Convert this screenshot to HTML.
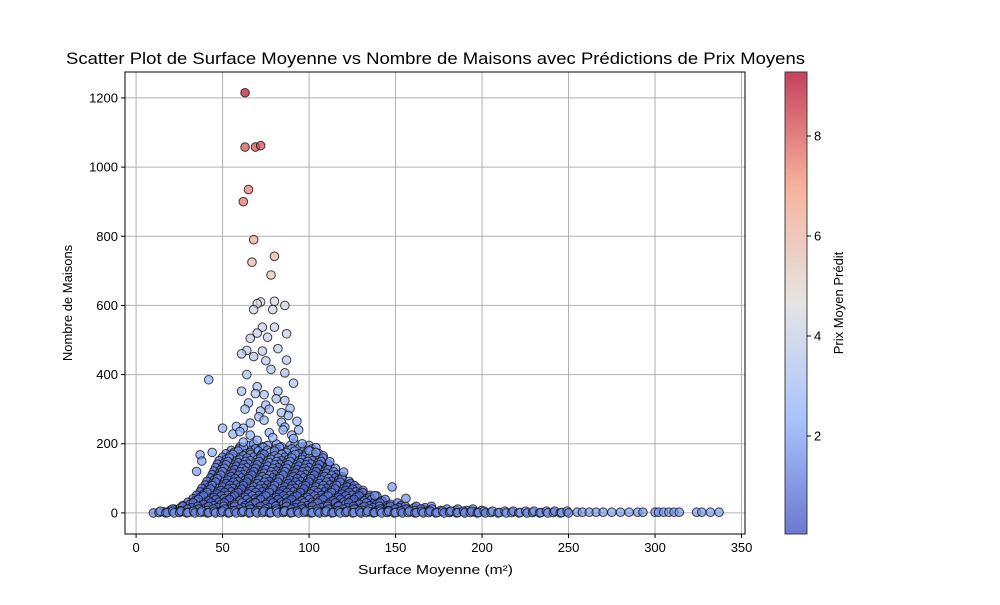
<!DOCTYPE html>
<html><head><meta charset="utf-8"><style>
body{margin:0;background:#fff;font-family:"Liberation Sans",sans-serif}
svg text{font-family:"Liberation Sans",sans-serif;fill:#000}
</style></head><body>
<svg id="chart" width="1000" height="600" xmlns="http://www.w3.org/2000/svg">
<defs><linearGradient id="cg" x1="0" y1="1" x2="0" y2="0">
<stop offset="0" stop-color="#3b4cc0"/><stop offset="0.25" stop-color="#8db0fe"/><stop offset="0.5" stop-color="#dddcdc"/><stop offset="0.75" stop-color="#f49a7b"/><stop offset="1" stop-color="#b40426"/></linearGradient></defs>
<rect x="0" y="0" width="1000" height="600" fill="#fff"/>
<g id="grid"></g><g id="pts"></g><g id="axes"></g>
<text x="66" y="64" font-size="17" textLength="739" lengthAdjust="spacingAndGlyphs">Scatter Plot de Surface Moyenne vs Nombre de Maisons avec Prédictions de Prix Moyens</text>
<text x="358" y="574" font-size="13" textLength="155" lengthAdjust="spacingAndGlyphs">Surface Moyenne (m²)</text>
<text transform="translate(72,303) rotate(-90)" font-size="13" text-anchor="middle">Nombre de Maisons</text>
<rect x="785" y="72" width="22" height="462" fill="url(#cg)" opacity="0.75" stroke="#000" stroke-width="1"/>
<g id="cbar"></g>
<text transform="translate(843,303) rotate(-90)" font-size="13" text-anchor="middle">Prix Moyen Prédit</text>
</svg>
<script>
const xTicks=[0,50,100,150,200,250,300,350];
const yTicks=[0,200,400,600,800,1000,1200];
const cTicks=[2,4,6,8];
const outX=[63,63,69,72,65,62,68,80,67,78,80,72,70,86,68,79,73,80,70,87,76,66,64,73,82,61,68,87,75,64,78,86,42,91,70,61,82,74,65,86,63,72,89,94,50,56,37,44,38,35,58,66,77,84,71,62,90,148,156,138,112,120,60,75,81,84,88,93,69,77,86,91,74,66,79,85,70,62,96,100,104];
const outY=[1215,1058,1058,1062,935,900,790,742,725,688,612,610,605,600,588,588,537,537,520,518,508,505,470,468,475,460,452,442,440,400,415,405,385,375,365,352,352,342,318,325,300,295,302,240,245,228,168,175,150,120,250,260,232,262,278,245,225,75,42,50,148,118,235,312,330,290,282,265,345,300,248,215,268,225,218,240,210,205,200,180,175];
const outV=[9.1,8.2,8.2,8.2,7.5,7.6,6.5,6.2,5.8,5.5,4.5,4.4,4.4,4.3,4.2,4.2,4,4,3.9,3.9,3.8,3.8,3.7,3.7,3.7,3.6,3.5,3.5,3.5,3.3,3.3,3.3,2.4,3.2,3.2,3.1,3.1,3.1,3,3,3,2.9,2.9,2.6,2.5,2.4,2.1,2.2,2,1.8,2.5,2.6,2.4,2.6,2.7,2.5,2.3,1.8,1.6,1.6,1.7,1.6,2.4,2.9,3.0,2.8,2.7,2.6,3.1,2.8,2.5,2.3,2.6,2.3,2.3,2.4,2.2,2.2,2.1,2.0,1.9];
const rowY=[195,185,175,165,155,145,135,125,115,105,95,85,75,65,55,45,35,25,15,7,1];
const rowStart=[60,55,52,50,48,47,46,45,44,43,41,40,38,37,35,33,30,27,22,16,10];
const rowEnd=[100,104,106,108,110,112,114,116,118,120,122,124,128,132,136,140,145,155,170,200,250];
const rowStep=[4,3.5,3.5,3,3,3,3,3,3,3,3,3,3,3,3,3,3,3,2.5,2.5,2];
const rowV=[1.6,1.5,1.4,1.3,1.2,1.1,1.0,0.9,0.9,0.8,0.8,0.7,0.7,0.6,0.6,0.6,0.6,0.7,0.8,1.0,1.3];
const tailX=[255,258,262,266,270,275,280,285,290,293,300,302,305,308,311,314,324,327,332,337];
const tailY=[2,2,2,2,2,2,2,2,2,2,2,2,2,2,2,2,2,2,2,2];
const tailV=[1.8,1.8,1.8,1.8,1.8,1.9,1.8,1.8,1.9,1.8,1.8,1.8,1.9,1.8,1.8,1.8,1.9,1.8,1.9,1.9];
const L=125,R=745,T=72,B=534,XMIN=-6.4,XMAX=352,YMIN=-61,YMAX=1275,CMIN=0.04,CMAX=9.28;
const sx=v=>L+(v-XMIN)/(XMAX-XMIN)*(R-L);
const sy=v=>B-(v-YMIN)/(YMAX-YMIN)*(B-T);
const sc=v=>B-(v-CMIN)/(CMAX-CMIN)*(B-T);
const stops=[[0,[59,76,192]],[0.25,[141,176,254]],[0.5,[221,220,220]],[0.75,[244,154,123]],[1,[180,4,38]]];
function col(v){let t=Math.max(0,Math.min(1,(v-CMIN)/(CMAX-CMIN)));for(let i=1;i<stops.length;i++){if(t<=stops[i][0]){const a=stops[i-1],b=stops[i],f=(t-a[0])/(b[0]-a[0]);return 'rgb('+a[1].map((c,k)=>Math.round(c+(b[1][k]-c)*f)).join(',')+')';}}return 'rgb(180,4,38)';}
const NS='http://www.w3.org/2000/svg';
function mk(tag,attrs,parent){const e=document.createElementNS(NS,tag);for(const k in attrs)e.setAttribute(k,attrs[k]);parent.appendChild(e);return e;}
const grid=document.getElementById('grid'),pts=document.getElementById('pts'),axes=document.getElementById('axes'),cbar=document.getElementById('cbar');
xTicks.forEach(t=>{const g=mk('line',{x1:sx(t),x2:sx(t),y1:T,y2:B,stroke:'#b0b0b0','stroke-width':1},grid);
const tk=mk('line',{x1:sx(t),x2:sx(t),y1:B,y2:B+4,stroke:'#000'},axes);
const tx=mk('text',{x:sx(t),y:B+18,'font-size':13,'text-anchor':'middle'},axes);tx.textContent=t;});
yTicks.forEach(t=>{const g=mk('line',{x1:L,x2:R,y1:sy(t),y2:sy(t),stroke:'#b0b0b0','stroke-width':1},grid);
const tk=mk('line',{x1:L-4,x2:L,y1:sy(t),y2:sy(t),stroke:'#000'},axes);
const tx=mk('text',{x:L-7,y:sy(t)+4.5,'font-size':13,'text-anchor':'end'},axes);tx.textContent=t;});
function dot(x,y,v){const c=mk('circle',{cx:sx(x),cy:sy(y),r:4.3,fill:col(v),'fill-opacity':0.7,stroke:'#111','stroke-opacity':0.8,'stroke-width':1},pts);

}
rowY.forEach((y,i)=>{let k=0;for(let x=rowStart[i];x<=rowEnd[i];x+=rowStep[i]){dot(x+(k%2)*1.2,Math.max(0,y+((k%3)-1)*4),rowV[i]+(k%4)*0.2);k++;}});
tailX.forEach((x,i)=>dot(x,tailY[i],tailV[i]));
outX.forEach((x,i)=>dot(x,outY[i],outV[i]));
const fr=mk('rect',{x:L,y:T,width:R-L,height:B-T,fill:'none',stroke:'#000','stroke-width':1},axes);
cTicks.forEach(t=>{const tk=mk('line',{x1:807,x2:811,y1:sc(t),y2:sc(t),stroke:'#000'},cbar);
const tx=mk('text',{x:814,y:sc(t)+4.5,'font-size':13},cbar);tx.textContent=t;});
</script>
</body></html>
